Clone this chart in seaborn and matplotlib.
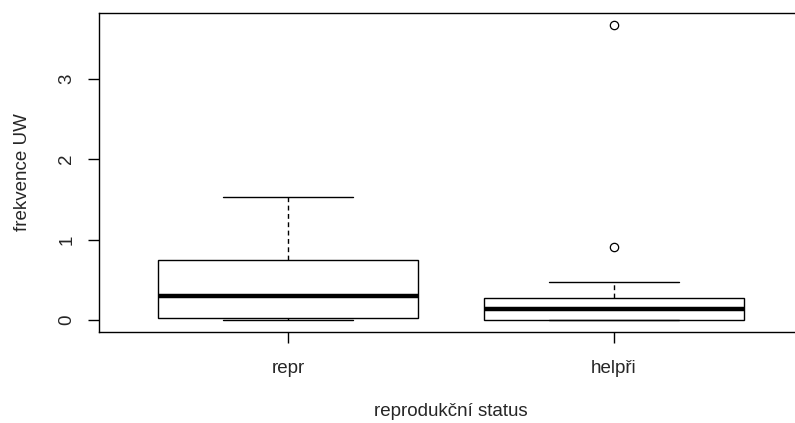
import numpy as np
import pandas as pd
import seaborn as sns
import matplotlib
matplotlib.use("Agg")
import matplotlib.pyplot as plt

# Data
categories = ["repr", "helpři"]
repr_values = [0.0, 0.03, 0.30, 0.75, 1.535]
helpri_values = [0.0, 0.0, 0.0, 0.003, 0.03, 0.08, 0.133, 0.17, 0.22, 0.28, 0.477, 0.91, 3.67]
y_ticks = [0, 1, 2, 3]
x_label = "reprodukční status"
y_label = "frekvence UW"

df = pd.DataFrame({
    "status": [categories[0]] * len(repr_values) + [categories[1]] * len(helpri_values),
    "value": repr_values + helpri_values,
})

sns.set_style("white")
plt.rcParams["font.family"] = ["Liberation Sans", "DejaVu Sans"]

fig = plt.figure(figsize=(7.95, 4.23), dpi=100)
ax = fig.add_axes([99 / 795, 1 - 332 / 423, (803 - 99) / 795, (332 - 13) / 423])

sns.boxplot(
    data=df, x="status", y="value", order=categories, ax=ax,
    color="white", linecolor="black", linewidth=1.0, width=0.8, whis=1.5,
    medianprops=dict(linewidth=3.2, color="black"),
    whiskerprops=dict(linestyle=(0, (3.5, 2.5)), color="black", linewidth=1.0),
    capprops=dict(color="black", linewidth=1.0),
    flierprops=dict(marker="o", markersize=6, markerfacecolor="none",
                    markeredgecolor="black", markeredgewidth=0.9),
)

fs = 13.5
ax.set_xlim(-0.58, 1.58)
ax.set_ylim(-0.147, 3.817)
ax.set_yticks(y_ticks)
ax.set_yticklabels([str(t) for t in y_ticks], rotation=90, va="center")
ax.set_xlabel(x_label, fontsize=fs, labelpad=19)
ax.set_ylabel(y_label, fontsize=fs, labelpad=20)
ax.tick_params(axis="both", direction="out", length=8, width=1.0, color="black",
               labelsize=fs, left=True, bottom=True)
ax.tick_params(axis="x", pad=12)
ax.tick_params(axis="y", pad=9)
for s in ax.spines.values():
    s.set_visible(True)
    s.set_color("black")
    s.set_linewidth(1.0)

fig.savefig("out.png", dpi=100, facecolor="white")
